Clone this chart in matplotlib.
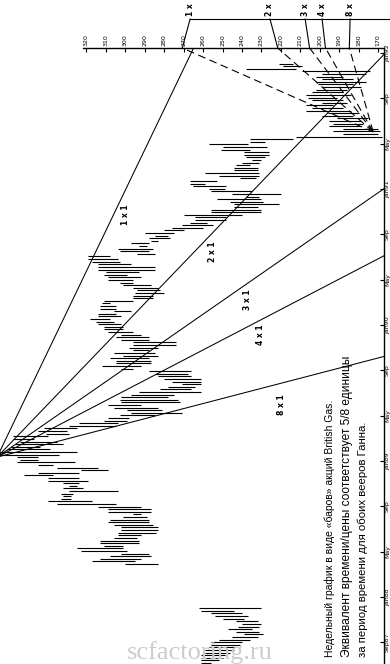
import matplotlib
matplotlib.use("Agg")
import matplotlib.pyplot as plt
import numpy as np

# Weekly bars of British Gas shares: high and low per week (pence), None = no bar
bar_high = [
    261, 261, 261, 261, 259, 259, 257, 256, 256, 252,
    245, 239, 243, 247, 242, 240, 243, 250, 254, 256,
    261, 262, None, None, None, None, None, None, None, None,
    None, None, None, None, None, None, None, None, 300, 317,
    313, 308, 302, 323, 325, 311, 313, 313, 306, 304,
    304, 302, 302, 306, 309, 308, 301, 296, 309, 309,
    314, 335, 340, 333, 332, 333, 329, 332, 329, 332,
    340, 340, 352, 345, 323, 335, 345, 356, 354, 356,
    364, 365, 361, 359, 357, 354, 358, 358, 341, 345,
    342, 329, 324, 311, 309, 303, 297, 299, 306, 309,
    302, 303, 302, 297, 293, 282, 278, 271, 276, 280,
    283, 285, 288, 302, 312, 305, 305, 308, 301, 306,
    296, 298, 296, 296, 302, 305, 302, 309, 311, 311,
    314, 315, 318, 314, 314, 306, 313, 313, 312, 311,
    296, 296, 295, 294, 296, 301, 303, 309, 309, 311,
    310, 314, 314, 314, 317, 319, 319, 294, 303, 304,
    293, 297, 287, 288, 285, 290, 280, 276, 271, 267,
    264, 264, 270, 256, 256, 244, 244, 246, 253, 238,
    245, 256, 257, 265, 267, 267, 241, 252, 259, 244,
    244, 243, 240, 235, 238, 239, 239, 251, 250, 257,
    236, 236, 212, 188, 193, 188, 195, 193, 195, 191,
    199, 196, 207, 204, 207, 199, 204, 206, 207, 204,
    202, 199, 201, 202, 199, 202, 199, 209, 238, 219,
    221,
]
bar_low = [
    256, 252, 250, 249, 246, 244, 243, 241, 240, 236,
    232, 229, 231, 235, 231, 230, 232, 239, 237, 240,
    244, 230, None, None, None, None, None, None, None, None,
    None, None, None, None, None, None, None, None, 283, 295,
    292, 287, 288, 299, 301, 301, 293, 293, 294, 292,
    284, 283, 283, 286, 288, 288, 289, 292, 287, 287,
    292, 305, 317, 328, 328, 327, 304, 322, 325, 324,
    319, 324, 337, 324, 309, 314, 337, 326, 345, 345,
    334, 325, 339, 344, 332, 335, 347, 340, 329, 330,
    325, 305, 304, 299, 298, 285, 271, 281, 283, 292,
    272, 273, 278, 275, 261, 266, 264, 261, 261, 261,
    266, 268, 266, 296, 292, 287, 287, 288, 283, 285,
    288, 283, 274, 274, 288, 288, 292, 296, 301, 301,
    302, 306, 308, 302, 305, 297, 305, 305, 308, 296,
    286, 286, 280, 282, 283, 287, 296, 296, 292, 299,
    293, 285, 285, 297, 303, 304, 308, 285, 288, 286,
    289, 288, 283, 277, 278, 275, 270, 260, 255, 258,
    248, 248, 240, 230, 230, 232, 221, 229, 230, 231,
    220, 235, 249, 248, 259, 253, 233, 231, 231, 232,
    232, 236, 231, 230, 228, 226, 226, 236, 227, 237,
    228, 214, 168, 170, 169, 170, 179, 178, 179, 175,
    183, 180, 184, 188, 193, 186, 188, 191, 184, 188,
    186, 179, 183, 176, 183, 188, 176, 174, 212, 209,
    214,
]

price_ticks = list(range(170, 330, 10))
month_steps = list(range(0, 56, 4))          # months after Sep 1987
time_labels = ["Sep87", "Jan88", "May", "Sep", "Jan89", "May", "Sep",
               "Jan90", "May", "Sep", "Jan91", "May", "Sep", "Jan92"]
first_tick_week = 8.0

# Gann fan from the top (price units per week for 1 x 1)
top_origin = (79.0, 366.0)                    # (week, price)
top_unit = 0.644
top_ratios = [1, 2, 3, 4, 8]
top_names = ["1 x 1", "2 x 1", "3 x 1", "4 x 1", "8 x 1"]
top_label_pos = [(299.7, 171.9), (255.4, 157.7), (237.4, 139.3),
                 (230.7, 125.9), (219.9, 99.0)]

# Gann fan from the low
low_origin = (203.8, 172.5)
low_unit = 3.05
low_ratios = [1, 2, 3, 4, 8]
low_names = ["1 x", "2 x", "3 x", "4 x", "8 x"]
low_label_price = [266.7, 225.6, 207.5, 198.8, 184.4]

caption = ["Недельный график в виде «баров» акций British Gas.",
           "Эквивалент времени/цены соответствует 5/8 единицы",
           "за период времени для обоих вееров Ганна."]
caption_x = [330, 347, 363]
caption_size = [7.5, 8.6, 8.2]

W, H = 390, 664
fig = plt.figure(figsize=(W / 100, H / 100), dpi=100)
ax = fig.add_axes([0, 0, 383.5 / W, (H - 48) / H])
ax.set_xlim(364.5, 167.2)
week_top = 236.0
ax.set_ylim(-0.38, week_top)
ax.set_facecolor("none")

weeks = np.arange(len(bar_high))
hi = np.array(bar_high, dtype=float)
lo = np.array(bar_low, dtype=float)
ok = ~np.isnan(hi)
ax.hlines(weeks[ok], lo[ok], hi[ok], color="black", lw=0.8)

# fan from the top
wt = np.array([top_origin[0], 300.0])
for r in top_ratios:
    ax.plot(top_origin[1] - r * top_unit * (wt - top_origin[0]), wt,
            color="black", lw=0.75)
for name, (px, wk) in zip(top_names, top_label_pos):
    ax.text(px, wk, name, rotation=90, ha="center", va="center",
            fontsize=5.5, fontweight="bold", family="DejaVu Sans")

# fan from the low (dashed) with leaders to the names above the frame
wl = np.array([low_origin[0], week_top])
lead_week = 247.1
for r, name, lp in zip(low_ratios, low_names, low_label_price):
    p = low_origin[1] + low_unit / r * (wl - low_origin[0])
    ax.plot(p, wl, color="black", lw=0.8, dashes=(7, 4))
    ax.plot([lp, p[-1]], [lead_week, week_top], color="black", lw=0.8,
            clip_on=False)
    ax.text(lp, lead_week + 1.2, name, rotation=90, ha="center",
            va="bottom", fontsize=5.5, fontweight="bold", clip_on=False)
ax.plot([low_label_price[0], 160.0], [lead_week, lead_week], color="black",
        lw=0.8, clip_on=False)

# frame
for side in ("left", "bottom"):
    ax.spines[side].set_visible(False)
ax.spines["top"].set_bounds(167.2, 322)
ax.spines["top"].set_linewidth(1.0)
ax.spines["right"].set_linewidth(1.0)

ax.xaxis.set_ticks_position("top")
ax.set_xticks(price_ticks)
ax.set_xticklabels([str(v) for v in price_ticks], rotation=90, fontsize=4.5)
ax.tick_params(axis="x", direction="in", length=3, width=0.8, pad=1.5)

ax.yaxis.set_ticks_position("right")
ax.set_yticks([first_tick_week + m * 52.18 / 12 for m in month_steps])
ax.set_yticklabels(time_labels, rotation=90, fontsize=4.5, va="center")
ax.tick_params(axis="y", direction="in", length=3, width=0.8, pad=1)

for x, line, fs in zip(caption_x, caption, caption_size):
    fig.text(x / W, 7 / H, line, rotation=90, ha="center", va="bottom",
             fontsize=fs, family="Liberation Sans")

fig.text(200 / W, 5 / H, "scfactoring.ru", fontsize=19,
         family="Liberation Serif", color="0.8", ha="center", va="baseline")

fig.savefig("out.png", dpi=100)
